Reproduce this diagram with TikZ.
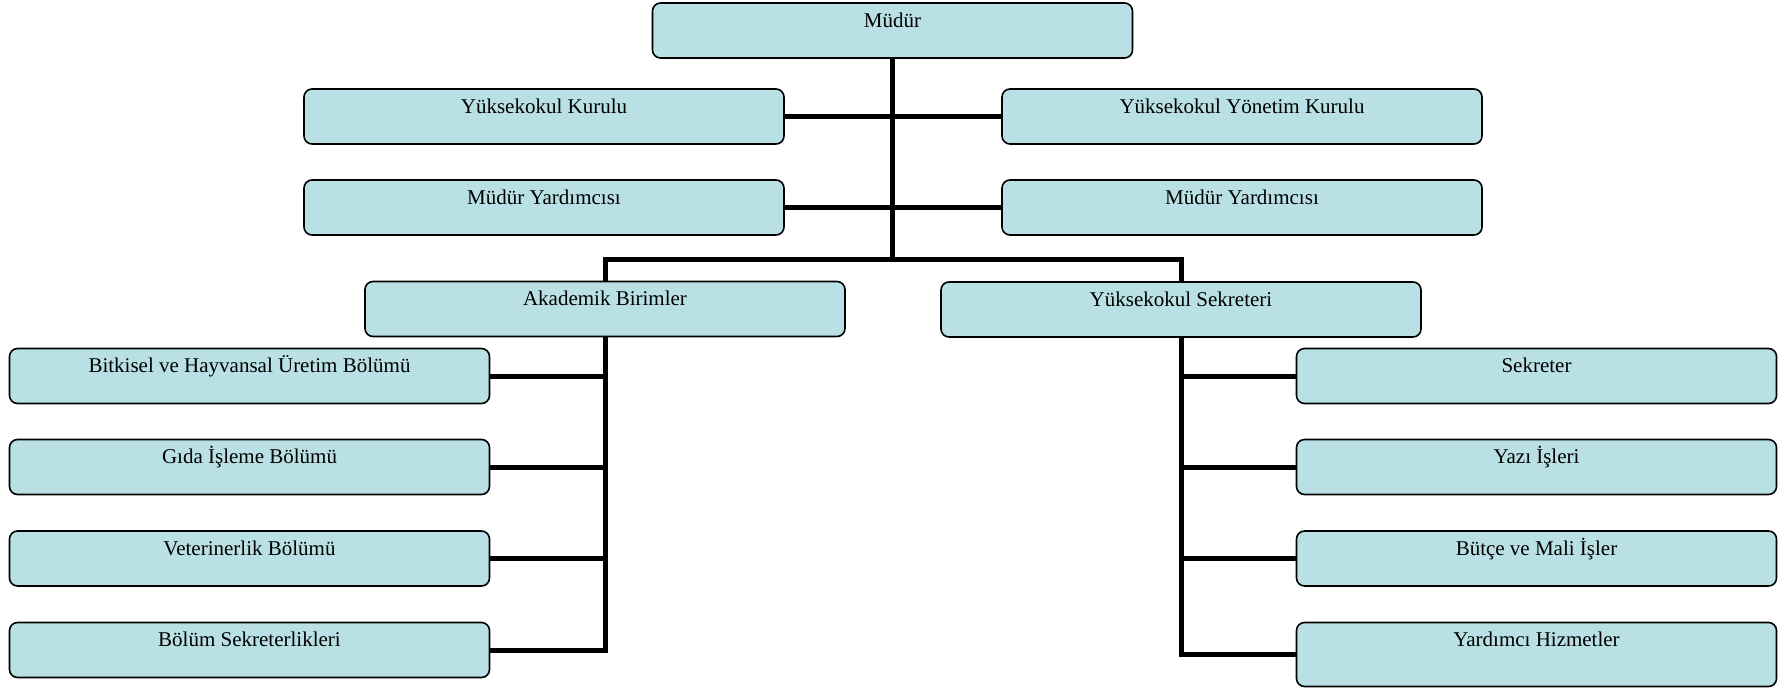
\documentclass[tikz,border=0pt]{standalone}
\usepackage{fontspec}
\setmainfont{Liberation Serif}
\definecolor{boxfill}{RGB}{185,224,228}
\begin{document}
\begin{tikzpicture}[x=1pt,y=-1pt,
  orgbox/.style={draw=black, line width=1.6pt, fill=boxfill, rounded corners=8pt,
    minimum width=480pt, inner xsep=0pt, inner ysep=0pt,
    text height=24pt, text depth=31pt, font=\fontsize{21}{23}\selectfont},
  tallbox/.style={orgbox, text depth=40pt},
  link/.style={line width=5pt}]
\useasboundingbox (0,0) rectangle (1785,689);
\node[orgbox] (mudur) at (892.5,30.5) {Müdür};
\node[orgbox] (yk) at (544,116.5) {Yüksekokul Kurulu};
\node[orgbox] (ykr) at (1242,116.5) {Yüksekokul Yönetim Kurulu};
\node[orgbox] (my1) at (544,207.5) {Müdür Yardımcısı};
\node[orgbox] (my2) at (1242,207.5) {Müdür Yardımcısı};
\node[orgbox] (ak) at (605,309) {Akademik Birimler};
\node[orgbox] (ys) at (1181,309.5) {Yüksekokul Sekreteri};
\node[orgbox] (l1) at (249.5,376) {Bitkisel ve Hayvansal Üretim Bölümü};
\node[orgbox] (l2) at (249.5,467) {Gıda İşleme Bölümü};
\node[orgbox] (l3) at (249.5,558.5) {Veterinerlik Bölümü};
\node[orgbox] (l4) at (249.5,650) {Bölüm Sekreterlikleri};
\node[orgbox] (r1) at (1536.5,376) {Sekreter};
\node[orgbox] (r2) at (1536.5,467) {Yazı İşleri};
\node[orgbox] (r3) at (1536.5,558.5) {Bütçe ve Mali İşler};
\node[tallbox] (r4) at (1536.5,654.5) {Yardımcı Hizmetler};
\coordinate (hub) at (mudur.south |- 0,259);
\draw[link] (mudur.south) -- (hub);
\draw[link] (yk.east) -- (ykr.west);
\draw[link] (my1.east) -- (my2.west);
\draw[link] (ak.north) |- (hub) -| (ys.north);
\draw[link] (ak.south) |- (l4.east);
\draw[link] (ak.south |- l1.east) -- (l1.east);
\draw[link] (ak.south |- l2.east) -- (l2.east);
\draw[link] (ak.south |- l3.east) -- (l3.east);
\draw[link] (ys.south) |- (r4.west);
\draw[link] (ys.south |- r1.west) -- (r1.west);
\draw[link] (ys.south |- r2.west) -- (r2.west);
\draw[link] (ys.south |- r3.west) -- (r3.west);
\end{tikzpicture}
\end{document}
